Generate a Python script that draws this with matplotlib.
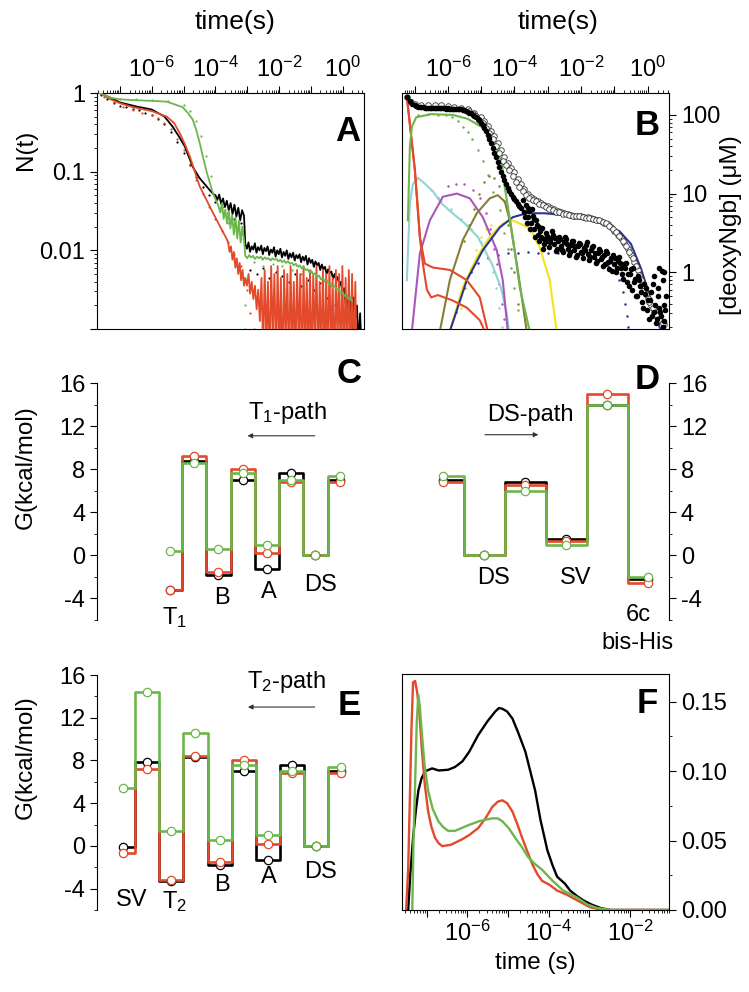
import numpy as np
import matplotlib
matplotlib.use('Agg')
import matplotlib.pyplot as plt
from matplotlib.ticker import FixedLocator, FuncFormatter, LogLocator, NullFormatter, MultipleLocator

plt.rcParams['font.family'] = ['Liberation Sans', 'DejaVu Sans']
plt.rcParams['mathtext.fontset'] = 'custom'
plt.rcParams['mathtext.rm'] = 'Liberation Sans'
plt.rcParams['mathtext.it'] = 'Liberation Sans:italic'
plt.rcParams['mathtext.bf'] = 'Liberation Sans:bold'
plt.rcParams['axes.unicode_minus'] = False

BLACK = 'black'
RED = '#e3492b'
GREEN = '#6cb64b'
CYAN = '#93d3d3'
PURPLE = '#a957b8'
OLIVE = '#857f38'
YELLOW = '#f3e31e'
NAVY = '#2c3593'

# ---------------- panel A : N(t), log10 values ----------------
a_black_logt = [-7.64, -7.3, -7.0, -6.5, -6.0, -5.6, -5.34, -5.15, -4.96, -4.71, -4.5, -4.27, -4.08]
a_black_logn = [0.0, -0.06, -0.12, -0.17, -0.21, -0.30, -0.43, -0.55, -0.68, -0.94, -1.08, -1.19, -1.28]
a_black_noise1 = [-1.30, -1.36, -1.29, -1.41, -1.34, -1.45, -1.37, -1.49, -1.40, -1.54, -1.42, -1.57,
                  -1.46, -1.62, -1.49, -1.56]
a_black_noise2 = [-1.92, -1.98, -1.90, -2.02, -1.95, -1.99, -1.91, -2.03, -1.96, -2.00,
                  -1.94, -2.05, -1.97, -2.01, -1.95, -2.06, -1.99, -2.03, -1.96, -2.08,
                  -2.00, -2.05, -1.98, -2.09, -2.02, -2.07, -2.00, -2.11, -2.04, -2.09,
                  -2.03, -2.13, -2.06, -2.10, -2.05, -2.15, -2.08, -2.13, -2.07, -2.18,
                  -2.10, -2.16, -2.12, -2.21, -2.14, -2.19, -2.16, -2.25, -2.18, -2.24,
                  -2.21, -2.30, -2.24, -2.29, -2.27, -2.36, -2.30, -2.38, -2.34, -2.45,
                  -2.40, -2.55, -2.48, -2.70, -2.58, -2.85, -2.65, -3.10, -2.60, -2.90,
                  -2.70, -3.20, -2.80, -3.30]

a_red_logt = [-7.64, -7.3, -7.0, -6.6, -6.0, -5.53, -5.3, -5.12, -4.95, -4.8, -4.49, -4.08, -3.64]
a_red_logn = [0.0, -0.08, -0.13, -0.18, -0.23, -0.30, -0.38, -0.51, -0.66, -0.81, -1.19, -1.52, -1.86]
a_red_noise1 = [-1.90, -2.02, -1.95, -2.12, -2.02, -2.22, -2.10, -2.30, -2.16, -2.38, -2.25, -2.45]
a_red_noise2 = [-2.35, -2.45, -2.30, -2.55, -2.40, -2.62, -2.45, -2.75, -2.50, -2.90,
                -2.35, -3.30, -2.25, -3.20, -2.40, -3.50, -2.20, -3.10, -2.30, -3.40,
                -2.20, -3.30, -2.35, -3.60, -2.25, -3.20, -2.30, -3.50, -2.20, -3.30,
                -2.40, -3.40, -2.25, -3.20, -2.30, -3.60, -2.20, -3.30, -2.35, -3.40,
                -2.25, -3.50, -2.30, -3.20, -2.20, -3.40, -2.40, -3.30, -2.25, -3.50,
                -2.30, -3.40, -2.20, -3.30, -2.35, -3.60, -2.25, -3.20, -2.30, -3.50,
                -2.20, -3.40, -2.35, -3.30, -2.25, -3.50, -2.30, -3.40, -2.40, -3.60]

a_green_logt = [-7.64, -7.3, -7.0, -6.6, -6.0, -5.53, -5.03, -4.85, -4.71, -4.6, -4.49, -4.38, -4.27, -4.08]
a_green_logn = [0.0, -0.06, -0.08, -0.09, -0.10, -0.11, -0.18, -0.26, -0.34, -0.47, -0.64, -0.83, -1.01, -1.27]
a_green_noise1 = [-1.44, -1.52, -1.40, -1.60, -1.48, -1.66, -1.50, -1.72, -1.55, -1.80, -1.58, -1.85,
                  -1.62, -1.90, -1.70, -1.86]
a_green_noise2 = [-2.07, -2.10, -2.06, -2.09, -2.07, -2.11, -2.08, -2.10, -2.08, -2.12,
                  -2.09, -2.11, -2.10, -2.13, -2.10, -2.12, -2.11, -2.14, -2.12, -2.15,
                  -2.13, -2.16, -2.14, -2.17, -2.16, -2.19, -2.17, -2.21, -2.19, -2.23,
                  -2.21, -2.25, -2.24, -2.28, -2.26, -2.31, -2.29, -2.34, -2.32, -2.37,
                  -2.35, -2.40, -2.38, -2.43, -2.42, -2.47, -2.45, -2.50, -2.49, -2.54,
                  -2.53, -2.58, -2.57, -2.62, -2.60, -2.65]

a_black_dot_logt = [-7.6, -7.4, -7.2, -7.0, -6.8, -6.6, -6.4, -6.2, -6.0, -5.8, -5.6, -5.4, -5.2, -5.0,
                    -4.8, -4.6, -4.4, -4.2, -4.0, -3.8, -3.6, -3.4, -3.2, -2.9, -2.7, -2.5, -2.3,
                    -2.1, -1.9, -1.7, -1.5, -1.3, -1.1, -0.9, -0.7, -0.5, -0.3, -0.1]
a_black_dot_logn = [-0.02, -0.08, -0.13, -0.16, -0.18, -0.20, -0.22, -0.25, -0.28, -0.33, -0.40, -0.50,
                    -0.62, -0.76, -0.92, -1.07, -1.20, -1.30, -1.38, -1.45, -1.52, -1.60, -1.65,
                    -2.25, -2.30, -2.22, -2.35, -2.28, -2.32, -2.40, -2.30, -2.45, -2.38, -2.50,
                    -2.42, -2.60, -2.70, -2.90]
a_red_dot_logt = [-7.5, -7.2, -6.9, -6.6, -6.3, -6.0, -5.8, -5.6, -5.4, -5.2, -5.0, -4.8, -4.6, -4.4,
                  -4.2, -4.0, -3.8, -3.6, -3.4, -3.2, -3.0, -2.9, -2.8]
a_red_dot_logn = [-0.05, -0.12, -0.18, -0.22, -0.25, -0.28, -0.32, -0.38, -0.46, -0.58, -0.73, -0.90,
                  -1.10, -1.28, -1.45, -1.60, -1.75, -1.90, -2.05, -2.20, -2.50, -2.80, -3.00]
a_green_dot_logt = [-7.5, -7.0, -6.5, -6.0, -5.5, -5.0, -4.8, -4.6, -4.45, -4.3, -4.15, -4.0, -3.8,
                    -3.6, -3.4, -3.2, -3.1, -3.08, -3.06, -2.8, -2.5, -2.2, -1.9, -1.6, -1.3, -1.0,
                    -0.7, -0.4, -0.1, 0.2]
a_green_dot_logn = [-0.03, -0.07, -0.08, -0.09, -0.10, -0.15, -0.23, -0.36, -0.55, -0.80, -1.05, -1.30,
                    -1.50, -1.65, -1.75, -1.85, -2.40, -2.70, -3.00, -2.15, -2.20, -2.17, -2.20,
                    -2.25, -2.30, -2.28, -2.35, -2.45, -2.55, -2.70]

# ---------------- panel B : [deoxyNgb] (uM), log10 values ----------------
b_filled_logt = [-7.22, -7.15, -7.08, -7.0, -6.9, -6.8, -6.7, -6.6, -6.5, -6.4, -6.3, -6.2, -6.1, -6.0,
                 -5.9, -5.8, -5.7, -5.6, -5.5, -5.4, -5.3, -5.2, -5.1, -5.0, -4.9, -4.8, -4.7, -4.6,
                 -4.5, -4.4, -4.3, -4.2, -4.1, -4.0, -3.9, -3.8, -3.7, -3.65, -3.6, -3.55, -3.5,
                 -3.45, -3.4, -3.35, -3.3, -3.25, -3.2, -3.1, -3.0, -2.9, -2.8, -2.7, -2.6, -2.5,
                 -2.4, -2.3, -2.2, -2.1, -2.0, -1.9, -1.8, -1.7, -1.6, -1.5, -1.4, -1.3, -1.2, -1.1,
                 -1.0, -0.9, -0.8, -0.7, -0.6, -0.5, -0.4, -0.3, -0.2, -0.1, 0.0, 0.1, 0.2, 0.3,
                 0.4, 0.5,
                 -3.75, -3.62, -3.48, -3.38, -3.22, -3.15, -3.05, -2.95, -2.85, -2.75, -2.65, -2.55,
                 -2.45, -2.35, -2.25, -2.15, -2.05, -1.95, -1.85, -1.75, -1.65, -1.55, -1.45, -1.35,
                 -1.25, -1.15, -1.05, -0.95, -0.85, -0.75, -0.65, -0.55, -0.45, -0.35, -0.25, -0.15,
                 -0.05, 0.05, 0.15, 0.25, 0.35, 0.45, 0.5, 0.35, 0.55, 0.2,
                 -6.95, -6.85, -6.75, -6.65, -6.55, -6.45, -6.35, -6.25, -6.15, -6.05, -5.95, -5.85,
                 -5.75, -5.65, -5.55, -5.45, -5.35, -5.25, -5.15, -5.05, -4.95, -4.85, -4.75, -4.65,
                 -4.55, -4.45, -4.35, -4.25, -4.15, -4.05, -3.95, -3.85,
                 -3.68, -3.58, -3.52, -3.42, -3.32, -3.27, -3.18, -3.12, -3.02, -2.92, -2.88, -2.78,
                 -2.72, -2.62, -2.58, -2.48, -2.42, -2.32, -2.28, -2.18, -2.12, -2.02, -1.98, -1.88,
                 -1.82, -1.72, -1.68, -1.58, -1.52, -1.42, -1.38, -1.28, -1.22, -1.12, -1.08, -0.98,
                 -0.92, -0.82, -0.78, -0.68, -0.62, -0.52, -0.48, -0.38, -0.32, -0.22, -0.18, -0.08,
                 -0.02, 0.08, 0.12, 0.22, 0.28, 0.38, 0.42, 0.48, 0.52, 0.30, 0.45]
b_filled_logc = [2.23, 2.18, 2.14, 2.12, 2.10, 2.10, 2.09, 2.09, 2.09, 2.09, 2.09, 2.09, 2.09, 2.09,
                 2.08, 2.08, 2.08, 2.07, 2.06, 2.04, 2.02, 1.99, 1.95, 1.90, 1.83, 1.74, 1.64, 1.52,
                 1.40, 1.28, 1.17, 1.07, 0.99, 0.93, 0.87, 0.82, 0.76, 0.85, 0.70, 0.78, 0.62,
                 0.72, 0.55, 0.66, 0.48, 0.58, 0.45, 0.42, 0.40, 0.44, 0.36, 0.40, 0.33, 0.38,
                 0.30, 0.35, 0.28, 0.33, 0.26, 0.31, 0.23, 0.28, 0.20, 0.25, 0.17, 0.22, 0.13, 0.18,
                 0.10, 0.14, 0.05, 0.10, -0.02, 0.04, -0.12, -0.05, -0.25, -0.15, -0.35, -0.25,
                 -0.50, -0.30, -0.55, -0.42,
                 0.92, 0.62, 0.80, 0.45, 0.52, 0.30, 0.50, 0.32, 0.47, 0.27, 0.45, 0.26,
                 0.42, 0.22, 0.40, 0.20, 0.37, 0.18, 0.35, 0.15, 0.33, 0.12, 0.30, 0.08,
                 0.27, 0.04, 0.22, 0.00, 0.20, -0.08, 0.12, -0.18, 0.05, -0.30, -0.10, -0.45,
                 -0.20, -0.60, -0.15, -0.65, -0.45, -0.70, 0.00, 0.05, -0.30, -0.05,
                 2.11, 2.10, 2.10, 2.09, 2.09, 2.09, 2.09, 2.09, 2.09, 2.08, 2.08, 2.08,
                 2.08, 2.07, 2.06, 2.05, 2.03, 2.00, 1.97, 1.93, 1.87, 1.79, 1.69, 1.58,
                 1.46, 1.34, 1.22, 1.12, 1.03, 0.96, 0.90, 0.84,
                 0.70, 0.82, 0.55, 0.68, 0.60, 0.40, 0.56, 0.36, 0.46, 0.38, 0.52, 0.44,
                 0.30, 0.42, 0.28, 0.45, 0.36, 0.26, 0.40, 0.33, 0.22, 0.36, 0.24, 0.28,
                 0.38, 0.20, 0.32, 0.25, 0.14, 0.27, 0.20, 0.10, 0.24, 0.14, 0.02, 0.18,
                 0.06, 0.12, -0.02, 0.05, -0.12, -0.02, -0.22, -0.08, -0.30, -0.18, -0.38, -0.28,
                 -0.48, -0.35, -0.55, -0.42, -0.60, -0.50, 0.02, -0.62, -0.48, -0.20, -0.10]
b_open_logt = [-7.22, -7.1, -7.0, -6.8, -6.6, -6.4, -6.2, -6.0, -5.8, -5.6, -5.4, -5.2, -5.0, -4.9,
               -4.8, -4.7, -4.6, -4.5, -4.4, -4.3, -4.2, -4.1, -4.0, -3.9, -3.8, -3.7, -3.6, -3.5,
               -3.4, -3.3, -3.2, -3.1, -3.0, -2.9, -2.8, -2.7, -2.6, -2.5, -2.4, -2.3, -2.2, -2.1,
               -2.0, -1.9, -1.8, -1.7, -1.6, -1.5, -1.4, -1.3, -1.2, -1.1, -1.0, -0.9, -0.8, -0.7,
               -0.6, -0.5, -0.4, -0.3, -0.2, -0.1, 0.0, 0.1, 0.2, 0.3, 0.4, 0.5,
               -5.35, -5.25, -5.15, -5.05, -4.95, -4.85, -4.75, -4.65, -4.55, -4.45, -4.35, -4.25,
               -4.15, -4.05, -3.95, -3.85, -3.75, -3.65, -3.55, -3.45, -3.35, -3.25, -3.15, -3.05,
               -2.95, -2.85, -2.75, -2.65, -2.55, -2.45, -2.35, -2.25, -2.15, -2.05, -1.95, -1.85,
               -1.75, -1.65, -1.55, -1.45, -1.35, -1.25, -1.15, -1.05, -0.95, -0.85, -0.75, -0.65,
               -0.55, -0.45, -0.35, -0.25, -0.15, -0.05, 0.05, 0.15, 0.25, 0.35, 0.45]
b_open_logc = [2.23, 2.17, 2.14, 2.13, 2.13, 2.12, 2.12, 2.11, 2.10, 2.09, 2.07, 2.03, 1.97, 1.92,
               1.86, 1.80, 1.73, 1.64, 1.55, 1.46, 1.39, 1.33, 1.27, 1.18, 1.12, 1.06, 1.00, 0.96,
               0.93, 0.91, 0.88, 0.86, 0.84, 0.82, 0.80, 0.78, 0.76, 0.75, 0.74, 0.73, 0.72, 0.72,
               0.71, 0.70, 0.70, 0.69, 0.68, 0.67, 0.65, 0.63, 0.61, 0.57, 0.53, 0.48, 0.43, 0.37,
               0.30, 0.22, 0.13, 0.03, -0.10, -0.22, -0.33, -0.42, -0.50, -0.57, -0.62, -0.66,
               2.05, 2.01, 1.99, 1.94, 1.90, 1.83, 1.77, 1.69, 1.60, 1.51, 1.42, 1.36,
               1.30, 1.23, 1.15, 1.09, 1.03, 0.98, 0.95, 0.92, 0.90, 0.87, 0.85, 0.83,
               0.81, 0.79, 0.77, 0.76, 0.74, 0.74, 0.73, 0.72, 0.71, 0.71, 0.70, 0.69,
               0.69, 0.68, 0.67, 0.66, 0.64, 0.62, 0.59, 0.55, 0.51, 0.46, 0.40, 0.34,
               0.26, 0.18, 0.08, -0.04, -0.16, -0.28, -0.38, -0.46, -0.54, -0.60, -0.64]

b_green_logt = [-7.2, -7.14, -7.08, -6.95, -6.5, -5.85, -5.4, -5.0, -4.68, -4.38, -4.29, -4.05, -3.84, -3.54]
b_green_logc = [0.66, 1.60, 1.85, 1.97, 2.01, 2.00, 1.95, 1.85, 1.72, 1.39, 1.08, 0.45, -0.19, -0.75]
b_red1_logt = [-7.23, -6.99, -6.84, -6.69, -6.45, -5.94, -5.43, -5.04, -4.80]
b_red1_logc = [2.23, 1.30, 0.45, 0.11, 0.06, 0.03, -0.10, -0.32, -0.75]
b_red2_logt = [-7.23, -6.99, -6.84, -6.75, -6.63, -6.5, -6.3, -5.85, -5.43, -5.04, -4.89]
b_red2_logc = [2.23, 1.30, 0.45, 0.11, -0.22, -0.32, -0.29, -0.36, -0.45, -0.61, -0.75]
b_cyan_logt = [-7.23, -7.14, -7.05, -6.90, -6.7, -6.45, -6.2, -5.94, -5.49, -5.1, -4.68, -4.41, -4.23, -4.15]
b_cyan_logc = [-0.10, 0.88, 1.12, 1.20, 1.13, 1.03, 0.88, 0.78, 0.62, 0.45, 0.11, -0.19, -0.52, -0.80]
b_purple_logt = [-7.08, -6.84, -6.54, -6.15, -5.73, -5.34, -4.95, -4.53, -4.35, -4.2]
b_purple_logc = [-0.75, 0.24, 0.66, 0.96, 1.00, 0.94, 0.70, 0.28, -0.10, -0.75]
b_olive_logt = [-6.24, -5.94, -5.55, -5.13, -4.74, -4.50, -4.29, -4.14, -3.90, -3.63]
b_olive_logc = [-0.75, -0.10, 0.41, 0.75, 0.94, 0.98, 0.90, 0.66, 0.03, -0.75]
b_yellow_logt = [-5.94, -5.55, -5.13, -4.74, -4.35, -4.05, -3.54, -3.24, -2.94, -2.73]
b_yellow_logc = [-0.75, -0.19, 0.19, 0.45, 0.62, 0.66, 0.56, 0.32, -0.10, -0.75]
b_navy_logt = [-5.94, -5.43, -4.95, -4.44, -4.05, -3.63, -3.09, -2.34, -1.44, -0.84, -0.5, -0.2, 0.1, 0.4]
b_navy_logc = [-0.75, -0.10, 0.28, 0.57, 0.70, 0.75, 0.75, 0.72, 0.64, 0.52, 0.36, 0.05, -0.35, -0.75]

b_green_dot_logt = [-6.9, -6.6, -6.3, -6.05, -5.88, -5.7, -5.55, -5.4, -5.28, -5.1, -4.95, -4.8, -4.65,
                    -4.44, -4.3, -4.2, -4.1, -4.0, -3.9]
b_green_dot_logc = [2.00, 2.01, 2.00, 2.00, 1.98, 1.92, 1.85, 1.78, 1.70, 1.55, 1.42, 1.24, 1.02,
                    0.79, 0.50, 0.30, 0.05, -0.20, -0.48]
b_purple_dot_logt = [-6.3, -6.0, -5.75, -5.5, -5.25, -5.04, -4.85, -4.74, -4.6, -4.53, -4.45, -4.38, -4.3]
b_purple_dot_logc = [0.95, 1.10, 1.12, 1.12, 1.05, 0.95, 0.75, 0.55, 0.30, 0.10, -0.15, -0.40, -0.60]
b_olive_dot_logt = [-5.5, -5.35, -5.2, -5.05, -4.9, -4.75, -4.6, -4.45, -4.3, -4.2, -4.1, -4.0, -3.9]
b_olive_dot_logc = [0.40, 0.60, 0.80, 1.00, 1.15, 1.22, 1.20, 1.10, 0.90, 0.60, 0.30, 0.00, -0.40]
b_cyan_dot_logt = [-6.5, -6.2, -5.9, -5.6, -5.3, -5.0, -4.8, -4.65, -4.55, -4.45, -4.38]
b_cyan_dot_logc = [1.05, 0.90, 0.80, 0.68, 0.55, 0.38, 0.20, 0.00, -0.20, -0.45, -0.70]
b_yellow_dot_logt = [-5.6, -5.45, -5.3, -5.15, -5.0, -4.85, -4.7]
b_yellow_dot_logc = [-0.45, -0.20, 0.05, 0.28, 0.45, 0.55, 0.60]
b_navy_dot_logt = [-5.75, -5.5, -5.3, -5.1, -4.8, -4.5, -4.2, -3.9, -3.6, -3.3, -3.0, -2.7, -2.4, -2.1,
                   -1.8, -1.5, -1.2, -1.0, -0.85, -0.75, -0.68, -0.62, -0.58]
b_navy_dot_logc = [-0.50, -0.20, 0.00, 0.12, 0.18, 0.22, 0.24, 0.25, 0.26, 0.25, 0.25, 0.24, 0.23, 0.21,
                   0.19, 0.15, 0.08, 0.00, -0.10, -0.25, -0.40, -0.55, -0.70]

# ---------------- panels C, D, E : free energy levels (kcal/mol) ----------------
c_black = [-3.2, 8.8, -1.8, 7.0, -1.3, 7.6, 0.0, 7.0]
c_red = [-3.2, 9.2, -1.5, 8.0, 0.2, 6.8, 0.0, 6.8]
c_green = [0.4, 8.6, 0.6, 7.6, 1.0, 7.0, 0.0, 7.4]

d_black = [7.0, 0.0, 6.8, 1.5, 14.0, -2.2]
d_red = [6.8, 0.0, 6.5, 1.3, 15.0, -2.6]
d_green = [7.4, 0.0, 6.0, 1.0, 14.0, -2.0]

e_black = [-0.1, 7.9, -3.3, 8.3, -1.8, 7.0, -1.3, 7.6, 0.0, 7.0]
e_red = [-0.7, 7.2, -3.2, 8.4, -1.5, 8.0, 0.2, 6.8, 0.0, 6.8]
e_green = [5.4, 14.4, 1.4, 10.6, 0.6, 7.6, 1.0, 7.0, 0.0, 7.4]

# ---------------- panel F : distributions ----------------
f_black_logt = [-7.45, -7.40, -7.33, -7.26, -7.20, -7.12, -7.03, -6.86, -6.70, -6.47, -6.30, -6.12,
                -5.95, -5.73, -5.50, -5.31, -5.22, -5.14, -5.02, -4.89, -4.75, -4.57, -4.45, -4.33,
                -4.20, -4.03, -3.90, -3.79, -3.60, -3.47, -3.30, -3.15, -2.95, -2.73, -2.49, -1.04]
f_black_val = [0.0, 0.025, 0.052, 0.072, 0.086, 0.095, 0.100, 0.102, 0.1005, 0.101, 0.103, 0.107,
               0.114, 0.126, 0.136, 0.143, 0.1455, 0.145, 0.143, 0.138, 0.128, 0.114, 0.100, 0.086,
               0.065, 0.043, 0.032, 0.024, 0.019, 0.014, 0.010, 0.007, 0.004, 0.0015, 0.0, 0.0]
f_red_logt = [-7.50, -7.45, -7.40, -7.37, -7.33, -7.28, -7.23, -7.17, -7.11, -7.04, -6.96, -6.88,
              -6.79, -6.70, -6.61, -6.40, -6.12, -5.95, -5.73, -5.55, -5.39, -5.25, -5.14, -5.02,
              -4.89, -4.77, -4.65, -4.52, -4.40, -4.28, -4.16, -3.97, -3.79, -3.55, -3.30, -2.98,
              -2.66, -1.04]
f_red_val = [0.0, 0.030, 0.091, 0.130, 0.164, 0.165, 0.157, 0.140, 0.114, 0.090, 0.071, 0.060,
             0.052, 0.048, 0.046, 0.047, 0.051, 0.054, 0.059, 0.066, 0.074, 0.078, 0.079, 0.077,
             0.071, 0.062, 0.052, 0.042, 0.033, 0.026, 0.021, 0.018, 0.014, 0.011, 0.007, 0.002,
             0.0, 0.0]
f_green_logt = [-7.35, -7.32, -7.28, -7.24, -7.20, -7.16, -7.11, -7.05, -6.96, -6.85, -6.71, -6.60,
                -6.47, -6.30, -5.98, -5.70, -5.39, -5.25, -5.14, -4.98, -4.82, -4.65, -4.50, -4.33,
                -4.16, -3.90, -3.64, -3.30, -3.05, -2.81, -2.49, -1.04]
f_green_val = [0.0, 0.050, 0.091, 0.135, 0.155, 0.145, 0.126, 0.105, 0.086, 0.073, 0.064, 0.060,
               0.057, 0.057, 0.061, 0.064, 0.066, 0.066, 0.064, 0.059, 0.052, 0.045, 0.038, 0.033,
               0.029, 0.021, 0.014, 0.009, 0.004, 0.0015, 0.0, 0.0]


def pw(v):
    return 10.0 ** np.asarray(v)


def decade_fmt(show):
    def f(v, pos):
        e = int(round(np.log10(v)))
        if e in show and abs(np.log10(v) - e) < 1e-6:
            return r'$10^{%d}$' % e
        return ''
    return FuncFormatter(f)


TICK = 17
LAB = 17.5

fig = plt.figure(figsize=(7.49, 9.92), dpi=100)
W, H = 749.0, 992.0


def rect(l, r, t, b):
    return [l / W, 1 - b / H, (r - l) / W, (b - t) / H]


def log_time_axis(ax, where, show):
    ax.set_xscale('log')
    ax.xaxis.set_major_locator(LogLocator(base=10, numticks=30))
    ax.xaxis.set_major_formatter(decade_fmt(show))
    ax.xaxis.set_minor_locator(LogLocator(base=10, subs=np.arange(2, 10), numticks=30))
    ax.xaxis.set_minor_formatter(NullFormatter())
    if where == 'top':
        ax.tick_params(axis='x', which='both', bottom=False, top=True, labelbottom=False,
                       labeltop=True, direction='out')
    else:
        ax.tick_params(axis='x', which='both', bottom=True, top=False, direction='out')
    ax.tick_params(axis='x', which='major', length=5, labelsize=TICK, pad=3)
    ax.tick_params(axis='x', which='minor', length=2.5)


# ---------- A ----------
axA = fig.add_axes(rect(97, 364, 93, 329))
log_time_axis(axA, 'top', (-6, -4, -2, 0))
axA.set_yscale('log')
axA.yaxis.set_major_locator(FixedLocator([1e-3, 1e-2, 1e-1, 1]))
axA.yaxis.set_major_formatter(FuncFormatter(
    lambda v, p: {-2: '0.01', -1: '0.1', 0: '1'}.get(int(round(np.log10(v))), '')))
axA.yaxis.set_minor_locator(LogLocator(base=10, subs=np.arange(2, 10), numticks=30))
axA.yaxis.set_minor_formatter(NullFormatter())
axA.tick_params(axis='y', which='both', direction='out', right=False)
axA.tick_params(axis='y', which='major', length=5, labelsize=TICK)
axA.tick_params(axis='y', which='minor', length=2.5)

lines_A = [
    (BLACK, a_black_logt, a_black_logn, a_black_noise1, (-4.0, -3.1), a_black_noise2, (-3.06, 0.6)),
    (RED, a_red_logt, a_red_logn, a_red_noise1, (-3.6, -3.1), a_red_noise2, (-3.06, 0.45)),
    (GREEN, a_green_logt, a_green_logn, a_green_noise1, (-3.9, -3.1), a_green_noise2, (-3.06, 0.3)),
]
for col, lt, ln, n1, r1, n2, r2 in lines_A:
    t = np.concatenate([lt, np.linspace(r1[0], r1[1], len(n1)), np.linspace(r2[0], r2[1], len(n2))])
    n = np.concatenate([ln, n1, n2])
    axA.plot(pw(t), pw(n), color=col, lw=1.3, zorder=3 if col != GREEN else 4)
for col, lt, ln in [(BLACK, a_black_dot_logt, a_black_dot_logn), (RED, a_red_dot_logt, a_red_dot_logn),
                    (GREEN, a_green_dot_logt, a_green_dot_logn)]:
    axA.plot(pw(lt), pw(ln), 'o', color=col, ms=1.6, mew=0, zorder=2)
axA.set_xlim(1.9e-8, 4.7)
axA.set_ylim(1e-3, 1)
axA.set_xlabel('time(s)', fontsize=19)
axA.xaxis.set_label_position('top')
axA.xaxis.set_label_coords(0.517, 1.27)
axA.set_ylabel('N(t)', fontsize=LAB)
axA.yaxis.set_label_coords(-0.225, 0.758)
axA.text(0.94, 0.835, 'A', transform=axA.transAxes, fontsize=25, fontweight='bold', ha='center', va='center')

# ---------- B ----------
axB = fig.add_axes(rect(402, 669, 93, 329))
log_time_axis(axB, 'top', (-6, -4, -2, 0))
axB.set_yscale('log')
axB.yaxis.tick_right()
axB.yaxis.set_label_position('right')
axB.yaxis.set_major_locator(FixedLocator([1, 10, 100]))
axB.yaxis.set_major_formatter(FuncFormatter(lambda v, p: '%d' % round(v)))
axB.yaxis.set_minor_locator(LogLocator(base=10, subs=np.arange(2, 10), numticks=30))
axB.yaxis.set_minor_formatter(NullFormatter())
axB.tick_params(axis='y', which='both', direction='out', left=False)
axB.tick_params(axis='y', which='major', length=5, labelsize=TICK)
axB.tick_params(axis='y', which='minor', length=2.5)

for col, lt, lc in [(CYAN, b_cyan_logt, b_cyan_logc), (PURPLE, b_purple_logt, b_purple_logc),
                    (OLIVE, b_olive_logt, b_olive_logc), (YELLOW, b_yellow_logt, b_yellow_logc),
                    (NAVY, b_navy_logt, b_navy_logc), (RED, b_red1_logt, b_red1_logc),
                    (RED, b_red2_logt, b_red2_logc), (GREEN, b_green_logt, b_green_logc)]:
    axB.plot(pw(lt), pw(lc), color=col, lw=1.5, zorder=3, solid_joinstyle='round')
for col, lt, lc in [(GREEN, b_green_dot_logt, b_green_dot_logc), (PURPLE, b_purple_dot_logt, b_purple_dot_logc),
                    (OLIVE, b_olive_dot_logt, b_olive_dot_logc), (CYAN, b_cyan_dot_logt, b_cyan_dot_logc),
                    (YELLOW, b_yellow_dot_logt, b_yellow_dot_logc), (NAVY, b_navy_dot_logt, b_navy_dot_logc)]:
    axB.plot(pw(lt), pw(lc), 'o', color=col, ms=1.8, mew=0, zorder=2)
axB.plot(pw(b_open_logt), pw(b_open_logc), 'o', mfc='white', mec='#333333', mew=0.6, ms=4, zorder=4)
axB.plot(pw(b_filled_logt), pw(b_filled_logc), 'o', color='black', ms=4, mew=0, zorder=5)
axB.set_xlim(4.2e-8, 4.4)
axB.set_ylim(0.19, 190)
axB.set_xlabel('time(s)', fontsize=19)
axB.xaxis.set_label_position('top')
axB.xaxis.set_label_coords(0.584, 1.27)
axB.set_ylabel('[deoxyNgb] (\u03bcM)', fontsize=LAB)
axB.yaxis.set_label_coords(1.19, 0.44)
axB.text(0.918, 0.864, 'B', transform=axB.transAxes, fontsize=25, fontweight='bold', ha='center', va='center')


# ---------- energy panels ----------
def energy_axis(ax, side):
    for s in ['top', 'bottom', 'left', 'right']:
        ax.spines[s].set_visible(s == side)
    ax.set_xticks([])
    ax.set_ylim(-6, 16)
    ax.yaxis.set_major_locator(MultipleLocator(4))
    ax.yaxis.set_minor_locator(MultipleLocator(2))
    ax.yaxis.set_major_formatter(FuncFormatter(lambda v, p: '%d' % v if v > -5 else ''))
    if side == 'right':
        ax.yaxis.tick_right()
    ax.tick_params(axis='y', which='both', direction='out')
    ax.tick_params(axis='y', which='major', length=5, labelsize=TICK)
    ax.tick_params(axis='y', which='minor', length=2.5)


def draw_levels(ax, series):
    for col, vals in series:
        x = np.arange(len(vals))
        ax.plot(x, vals, drawstyle='steps-mid', color=col, lw=1.9, zorder=3)
    for col, vals in series:
        x = np.arange(len(vals))
        ax.plot(x, vals, 'o', mfc='white', mec=col, mew=0.9, ms=6, zorder=5, clip_on=False)


def path_arrow(ax, x0, x1, y):
    ax.annotate('', xy=(x1, y), xytext=(x0, y),
                arrowprops=dict(arrowstyle='-|>', lw=0.8, color='#333333', mutation_scale=7,
                                shrinkA=0, shrinkB=0))


# C
axC = fig.add_axes(rect(97, 364, 383, 620))
energy_axis(axC, 'left')
draw_levels(axC, [(BLACK, c_black), (RED, c_red), (GREEN, c_green)])
axC.set_xlim(-3, 8)
axC.set_ylabel('G(kcal/mol)', fontsize=LAB)
axC.yaxis.set_label_coords(-0.225, 0.645)
axC.text(0.2, -5.8, r'T$_1$', fontsize=TICK, ha='center', va='center')
axC.text(2.14, -4.0, 'B', fontsize=TICK, ha='center', va='center')
axC.text(4.07, -3.4, 'A', fontsize=TICK, ha='center', va='center')
axC.text(6.2, -2.75, 'DS', fontsize=TICK, ha='center', va='center')
axC.text(4.83, 13.2, r'T$_1$-path', fontsize=TICK, ha='center', va='center')
path_arrow(axC, 5.97, 3.2, 11.1)
axC.text(7.37, 16.9, 'C', fontsize=25, fontweight='bold', ha='center', va='center')

# D
axD = fig.add_axes(rect(402, 669, 383, 620))
energy_axis(axD, 'right')
draw_levels(axD, [(BLACK, d_black), (RED, d_red), (GREEN, d_green)])
axD.set_xlim(-1, 5.5)
axD.text(1.22, -2.1, 'DS', fontsize=TICK, ha='center', va='center')
axD.text(3.22, -2.1, 'SV', fontsize=TICK, ha='center', va='center')
axD.text(4.76, -5.5, '6c', fontsize=TICK, ha='center', va='center')
axD.text(4.74, -8.1, 'bis-His', fontsize=TICK, ha='center', va='center')
axD.text(2.12, 13.0, 'DS-path', fontsize=TICK, ha='center', va='center')
path_arrow(axD, 1.02, 2.32, 11.2)
axD.text(4.98, 16.3, 'D', fontsize=25, fontweight='bold', ha='center', va='center')

# E
axE = fig.add_axes(rect(97, 364, 675, 910))
energy_axis(axE, 'left')
draw_levels(axE, [(BLACK, e_black), (RED, e_red), (GREEN, e_green)])
axE.set_xlim(-1.07, 9.97)
axE.set_ylabel('G(kcal/mol)', fontsize=LAB)
axE.yaxis.set_label_coords(-0.225, 0.65)
axE.text(0.37, -5.1, 'SV', fontsize=TICK, ha='center', va='center')
axE.text(2.15, -5.2, r'T$_2$', fontsize=TICK, ha='center', va='center')
axE.text(4.09, -3.7, 'B', fontsize=TICK, ha='center', va='center')
axE.text(6.03, -2.9, 'A', fontsize=TICK, ha='center', va='center')
axE.text(8.18, -2.4, 'DS', fontsize=TICK, ha='center', va='center')
axE.text(6.78, 15.3, r'T$_2$-path', fontsize=TICK, ha='center', va='center')
path_arrow(axE, 7.93, 5.17, 13.0)
axE.text(9.38, 13.1, 'E', fontsize=25, fontweight='bold', ha='center', va='center')

# ---------- F ----------
axF = fig.add_axes(rect(402, 669, 674, 910))
log_time_axis(axF, 'bottom', (-6, -4, -2))
axF.yaxis.tick_right()
axF.yaxis.set_major_locator(MultipleLocator(0.05))
axF.yaxis.set_minor_locator(MultipleLocator(0.025))
axF.yaxis.set_major_formatter(FuncFormatter(lambda v, p: '%.2f' % v))
axF.tick_params(axis='y', which='both', direction='out', left=False)
axF.tick_params(axis='y', which='major', length=5, labelsize=TICK)
axF.tick_params(axis='y', which='minor', length=2.5)
for col, lt, vals in [(BLACK, f_black_logt, f_black_val), (RED, f_red_logt, f_red_val),
                      (GREEN, f_green_logt, f_green_val)]:
    axF.plot(pw(lt), vals, color=col, lw=1.7, solid_joinstyle='round')
axF.set_xlim(2.5e-8, 0.091)
axF.set_ylim(0, 0.17)
axF.set_xlabel('time (s)', fontsize=LAB)
axF.text(0.918, 0.877, 'F', transform=axF.transAxes, fontsize=25, fontweight='bold', ha='center', va='center')

fig.savefig('out.png', dpi=100)
